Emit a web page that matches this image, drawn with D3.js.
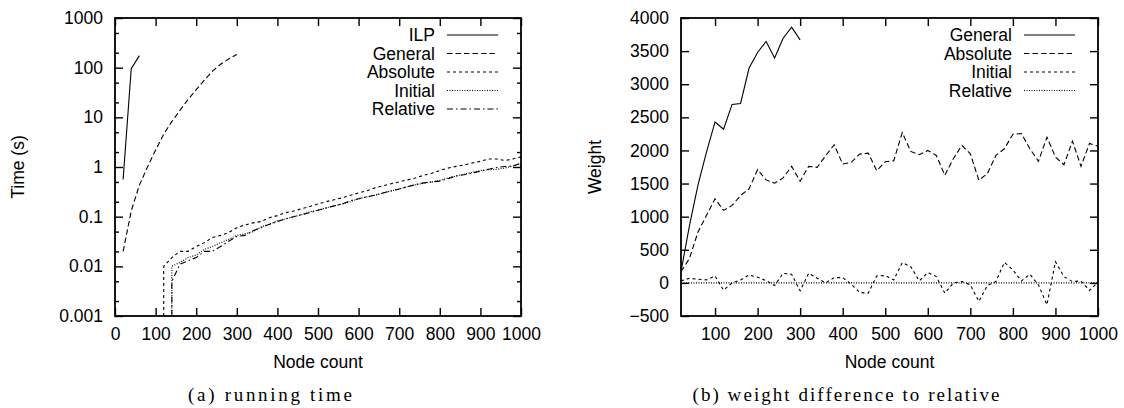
<!DOCTYPE html>
<html>
<head>
<meta charset="utf-8">
<script src="https://cdn.jsdelivr.net/npm/d3@7"></script>
<style>
  body { margin: 0; background: #fff; }
  svg { display: block; }
  text { font-family: "Liberation Sans", Arial, sans-serif; font-size: 17.5px; fill: #000; }
  .caption { font-family: "Liberation Serif", "DejaVu Serif", serif; font-size: 19px; }
</style>
</head>
<body>
<div id="chart"></div>
<script>
// node counts (every 20 nodes)
var nodes = d3.range(20, 1001, 20);

// (a) running time in seconds, 0 = below measurement resolution
var ilpTime = [0.56, 95, 175];
var generalTime = [0.02, 0.13, 0.43, 1.0, 2.2, 4.6, 8.2, 13.8, 23, 36, 56, 85, 117, 150, 185];
var absoluteTime = [0, 0, 0, 0, 0, 0.01, 0.015, 0.02, 0.02, 0.025,
  0.03, 0.038, 0.042, 0.048, 0.06, 0.068, 0.075, 0.08, 0.095, 0.105,
  0.12, 0.13, 0.145, 0.16, 0.18, 0.2, 0.22, 0.24, 0.27, 0.3,
  0.33, 0.38, 0.42, 0.46, 0.5, 0.55, 0.6, 0.68, 0.75, 0.85,
  0.95, 1.03, 1.1, 1.2, 1.3, 1.45, 1.45, 1.35, 1.45, 1.6];
var initialTime = [0, 0, 0, 0, 0, 0, 0.01, 0.012, 0.015, 0.017,
  0.022, 0.025, 0.03, 0.035, 0.042, 0.045, 0.05, 0.062, 0.07, 0.082,
  0.09, 0.1, 0.11, 0.125, 0.135, 0.15, 0.165, 0.18, 0.2, 0.23,
  0.25, 0.27, 0.3, 0.33, 0.36, 0.4, 0.44, 0.47, 0.5, 0.54,
  0.6, 0.66, 0.72, 0.78, 0.85, 0.88, 0.9, 0.95, 1.05, 1.15];
var relativeTime = [0, 0, 0, 0, 0, 0, 0.005, 0.011, 0.013, 0.015,
  0.02, 0.02, 0.025, 0.032, 0.04, 0.042, 0.052, 0.06, 0.07, 0.08,
  0.09, 0.1, 0.11, 0.12, 0.135, 0.15, 0.165, 0.18, 0.21, 0.23,
  0.25, 0.27, 0.3, 0.33, 0.36, 0.4, 0.44, 0.48, 0.5, 0.52,
  0.58, 0.66, 0.7, 0.76, 0.82, 0.9, 0.98, 1.02, 1.05, 1.2];

// (b) weight difference to relative
var generalWeight = [170, 870, 1480, 1980, 2430, 2320, 2695, 2710, 3245, 3480, 3645, 3395, 3695, 3860, 3670];
var absoluteWeight = [170, 370, 770, 1020, 1270, 1095, 1170, 1320, 1420, 1710,
  1555, 1505, 1585, 1760, 1535, 1760, 1745, 1920, 2085, 1795,
  1820, 1945, 1960, 1695, 1830, 1845, 2270, 1985, 1935, 2000,
  1925, 1625, 1875, 2075, 1950, 1550, 1650, 1925, 2025, 2245,
  2255, 2025, 1835, 2200, 1900, 1785, 2140, 1760, 2105, 2065];
var initialWeight = [30, 70, 55, 45, 105, -110, 0, 45, 120, 85,
  35, -40, 145, 130, -120, 145, 70, 0, 80, 80,
  -20, -145, -155, 105, 110, 45, 305, 245, 30, 155,
  95, -155, 0, 20, -30, -280, -40, 20, 310, 195,
  30, 130, -30, -330, 320, 95, 20, 30, -115, 10];
var relativeWeight = nodes.map(function() { return 0; });

var timeTicks = [0.001, 0.01, 0.1, 1, 10, 100, 1000];
var timeTickLabels = ["0.001", "0.01", "0.1", "1", "10", "100", "1000"];
var weightTicks = d3.range(-500, 4001, 500);
var nodeTicksA = d3.range(0, 1001, 100);
var nodeTicksB = d3.range(100, 1001, 100);

var dash = {
  solid: null,
  longdash: "5.5,3",
  shortdash: "3,3",
  dotted: "1,1.5",
  dashdot: "6,3,1.5,3"
};

var W = 1124, H = 408;
var svg = d3.select("#chart").append("svg")
  .attr("width", W)
  .attr("height", H);

function panel(o) {
  var x = d3.scaleLinear().domain(o.xDomain).range([o.left, o.right]);
  var y = o.log
    ? d3.scaleLog().domain([0.001, 1000]).range([o.bottom, o.top])
    : d3.scaleLinear().domain([-500, 4000]).range([o.bottom, o.top]);

  var g = svg.append("g");

  g.append("clipPath").attr("id", o.id + "-clip")
    .append("rect")
      .attr("x", o.left).attr("y", o.top)
      .attr("width", o.right - o.left).attr("height", o.bottom - o.top);

  // ticks, drawn inward and mirrored like gnuplot
  g.append("g")
    .attr("transform", "translate(0," + o.bottom + ")")
    .call(d3.axisBottom(x).tickValues(o.xTicks).tickSizeInner(-8).tickSizeOuter(0).tickPadding(12).tickFormat(d3.format("d")));
  g.append("g")
    .attr("transform", "translate(0," + o.top + ")")
    .call(d3.axisTop(x).tickValues(o.xTicks).tickSizeInner(-8).tickSizeOuter(0).tickFormat(""));

  var yAxis = d3.axisLeft(y).tickValues(o.yTicks).tickSizeInner(-8).tickSizeOuter(0).tickPadding(12);
  if (o.yLabels) yAxis.tickFormat(function(d, i) { return o.yLabels[i]; });
  else yAxis.tickFormat(d3.format("d"));
  g.append("g")
    .attr("transform", "translate(" + o.left + ",0)")
    .call(yAxis);
  g.append("g")
    .attr("transform", "translate(" + o.right + ",0)")
    .call(d3.axisRight(y).tickValues(o.yTicks).tickSizeInner(-8).tickSizeOuter(0).tickFormat(""));

  if (o.log) {
    var minor = [];
    timeTicks.slice(0, -1).forEach(function(t) { minor.push(t * 2, t * 5); });
    g.append("g")
      .attr("transform", "translate(" + o.left + ",0)")
      .call(d3.axisLeft(y).tickValues(minor).tickSizeInner(-4).tickSizeOuter(0).tickFormat(""));
    g.append("g")
      .attr("transform", "translate(" + o.right + ",0)")
      .call(d3.axisRight(y).tickValues(minor).tickSizeInner(-4).tickSizeOuter(0).tickFormat(""));
  }

  g.selectAll(".domain").remove();
  g.selectAll(".tick line").attr("stroke", "#000").attr("stroke-width", 1.4);
  g.selectAll(".tick text")
    .style("font-family", "'Liberation Sans', Arial, sans-serif")
    .style("font-size", "17.5px")
    .attr("fill", "#000");

  // series
  var line = d3.line()
    .x(function(d) { return x(d[0]); })
    .y(function(d) { return y(d[1]); });

  o.series.forEach(function(s) {
    var pts = [];
    s.values.forEach(function(v, i) {
      if (o.log && v <= 0) return;
      if (o.log && pts.length === 0 && i > 0) pts.push([nodes[i], y.domain()[0]]);
      pts.push([nodes[i], v]);
    });
    g.append("path")
      .datum(pts)
      .attr("clip-path", "url(#" + o.id + "-clip)")
      .attr("fill", "none")
      .attr("stroke", "#000")
      .attr("stroke-width", 1.1)
      .attr("stroke-dasharray", dash[s.style])
      .attr("d", line);
  });

  // frame
  g.append("rect")
    .attr("x", o.left).attr("y", o.top)
    .attr("width", o.right - o.left).attr("height", o.bottom - o.top)
    .attr("fill", "none")
    .attr("stroke", "#000")
    .attr("stroke-width", 1.8);

  // legend
  var leg = g.selectAll(".legend")
    .data(o.series)
    .enter().append("g")
      .attr("class", "legend")
      .attr("transform", function(d, i) { return "translate(0," + (o.legendTop + i * 18.5) + ")"; });
  leg.append("text")
    .attr("x", o.legendX)
    .attr("dy", "0.35em")
    .attr("text-anchor", "end")
    .text(function(d) { return d.name; });
  leg.append("line")
    .attr("x1", o.legendX + 12)
    .attr("x2", o.legendX + 63)
    .attr("stroke", "#000")
    .attr("stroke-width", 1.1)
    .attr("stroke-dasharray", function(d) { return dash[d.style]; });

  // axis titles
  g.append("text")
    .attr("x", (o.left + o.right) / 2)
    .attr("y", o.bottom + 46)
    .attr("dy", "0.35em")
    .attr("text-anchor", "middle")
    .text("Node count");
  g.append("text")
    .attr("transform", "translate(" + o.yTitleX + "," + ((o.top + o.bottom) / 2) + ") rotate(-90)")
    .attr("dy", "0.35em")
    .attr("text-anchor", "middle")
    .text(o.yTitle);

  g.append("text")
    .attr("class", "caption")
    .attr("x", o.captionX)
    .attr("y", 394)
    .attr("dy", "0.35em")
    .attr("text-anchor", "middle")
    .attr("textLength", o.captionWidth)
    .attr("lengthAdjust", "spacing")
    .text(o.caption);
}

panel({
  id: "a", log: true,
  left: 115, right: 521, top: 18, bottom: 316,
  xDomain: [0, 1000], xTicks: nodeTicksA,
  yTicks: timeTicks, yLabels: timeTickLabels,
  yTitle: "Time (s)", yTitleX: 18,
  legendX: 435, legendTop: 35,
  caption: "(a) running time", captionX: 270, captionWidth: 164,
  series: [
    {name: "ILP", style: "solid", values: ilpTime},
    {name: "General", style: "longdash", values: generalTime},
    {name: "Absolute", style: "shortdash", values: absoluteTime},
    {name: "Initial", style: "dotted", values: initialTime},
    {name: "Relative", style: "dashdot", values: relativeTime}
  ]
});

panel({
  id: "b", log: false,
  left: 681, right: 1098, top: 18, bottom: 316,
  xDomain: [20, 1000], xTicks: nodeTicksB,
  yTicks: weightTicks,
  yTitle: "Weight", yTitleX: 595,
  legendX: 1012, legendTop: 35,
  caption: "(b) weight difference to relative", captionX: 846, captionWidth: 307,
  series: [
    {name: "General", style: "solid", values: generalWeight},
    {name: "Absolute", style: "longdash", values: absoluteWeight},
    {name: "Initial", style: "shortdash", values: initialWeight},
    {name: "Relative", style: "dotted", values: relativeWeight}
  ]
});
</script>
</body>
</html>
